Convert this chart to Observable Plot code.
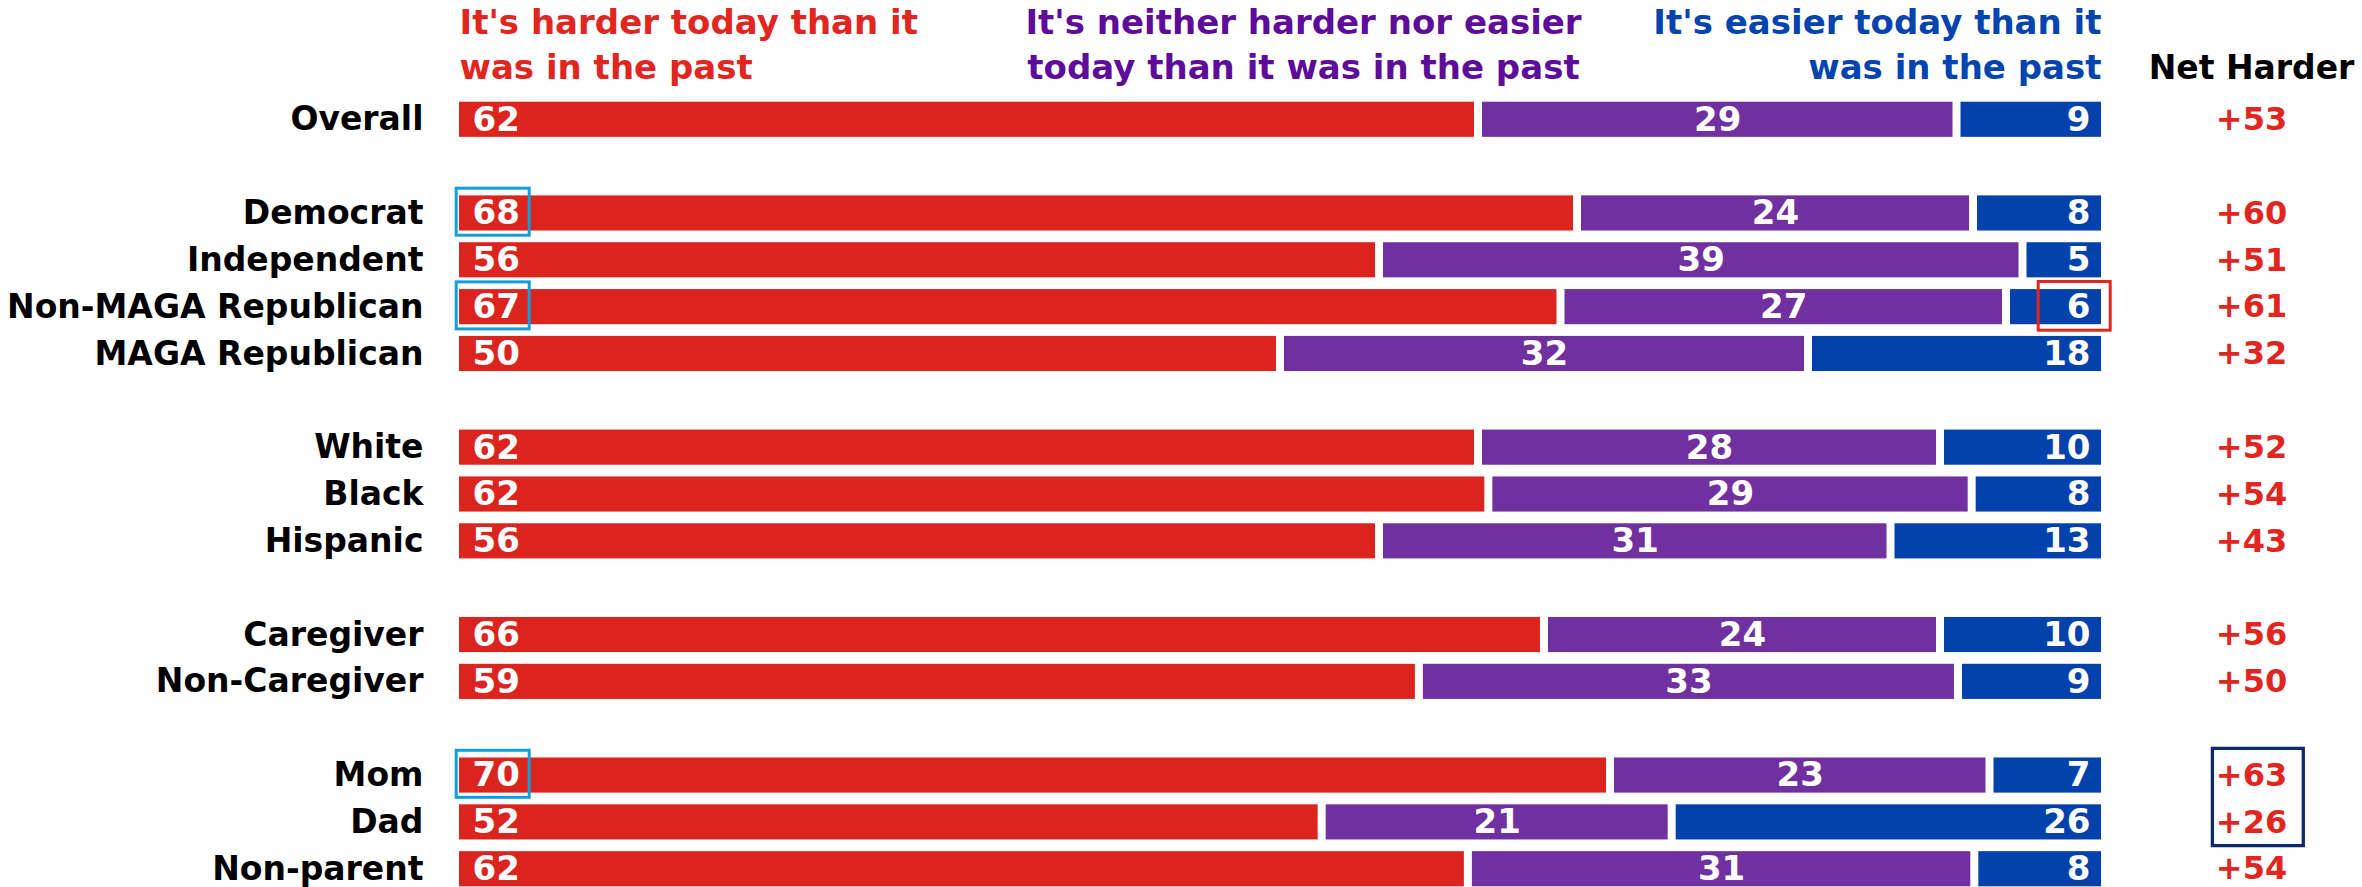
<!DOCTYPE html>
<html><head><meta charset="utf-8">
<script src="https://cdn.jsdelivr.net/npm/d3@7"></script>
<script src="https://cdn.jsdelivr.net/npm/@observablehq/plot@0.6"></script>
<style>
body{margin:0;background:#fff;}
#chart{position:relative;width:2362px;height:887px;overflow:hidden;}
</style>
</head><body><div id="chart"></div>
<script>
// ---- data ----
const rowOrder = ["Overall"," ","Democrat","Independent","Non-MAGA Republican","MAGA Republican","  ","White","Black","Hispanic","   ","Caregiver","Non-Caregiver","    ","Mom","Dad","Non-parent"];
const categories = ["Overall","Democrat","Independent","Non-MAGA Republican","MAGA Republican","White","Black","Hispanic","Caregiver","Non-Caregiver","Mom","Dad","Non-parent"];
const harder  = [62,68,56,67,50,62,62,56,66,59,70,52,62];
const neither = [29,24,39,27,32,28,29,31,24,33,23,21,31];
const easier  = [9,8,5,6,18,10,8,13,10,9,7,26,8];
const netHarder = [53,60,51,61,32,52,54,43,56,50,63,26,54];
const seriesNames = ["It's harder today than it was in the past","It's neither harder nor easier today than it was in the past","It's easier today than it was in the past"];
const headerLines = ["It's harder today than it\nwas in the past","It's neither harder nor easier\ntoday than it was in the past","It's easier today than it\nwas in the past"];
const netTitle = "Net Harder";
const highlightHarder = ["Democrat","Non-MAGA Republican","Mom"];
const highlightEasier = ["Non-MAGA Republican"];
const highlightNet = ["Mom"]; // box covers Mom and Dad

// ---- colours ----
const RED = "#DC241F", PURPLE = "#7030A0", BLUE = "#0341AD";
const HRED = "#E0261F", HPURPLE = "#5E0C9A", HBLUE = "#0344AE";

// ---- build normalized stacked rows ----
const long = [];
categories.forEach((c, i) => {
  const vals = [harder[i], neither[i], easier[i]];
  const total = d3.sum(vals);
  let acc = 0;
  vals.forEach((v, j) => {
    const x1 = acc / total; acc += v; const x2 = acc / total;
    long.push({category: c, series: seriesNames[j], value: v, x1, x2});
  });
});
const netRows = categories.map((c, i) => ({category: c, net: netHarder[i]}));
const bySeries = s => long.filter(d => d.series === seriesNames[s]);

const FONT = "DejaVu Sans";
const chart = Plot.plot({
  width: 2362,
  height: 887,
  marginLeft: 455,
  marginRight: 257,
  marginTop: 90,
  marginBottom: 0,
  style: {fontFamily: FONT, fontWeight: "bold", background: "white"},
  x: {domain: [0, 1], axis: null},
  y: {domain: rowOrder, range: [90, 898], padding: 0.25, round: false, axis: null},
  color: {domain: seriesNames, range: [RED, PURPLE, BLUE]},
  marks: [
    Plot.barX(long, {y: "category", x1: "x1", x2: "x2", fill: "series", insetLeft: 4, insetRight: 4}),
    // values inside bars
    Plot.text(bySeries(0), {y: "category", x: "x1", text: "value", textAnchor: "start", dx: 17, fill: "white", fontSize: 34, fontWeight: "bold"}),
    Plot.text(bySeries(1), {y: "category", x: d => (d.x1 + d.x2) / 2, text: "value", textAnchor: "middle", fill: "white", fontSize: 34, fontWeight: "bold"}),
    Plot.text(bySeries(2), {y: "category", x: "x2", text: "value", textAnchor: "end", dx: -15, fill: "white", fontSize: 34, fontWeight: "bold"}),
    // net harder column
    Plot.text(netRows, {y: "category", x: d => 1, text: d => "+" + d.net, textAnchor: "middle", dx: 146, fill: HRED, fontSize: 32, fontWeight: "bold"}),
    // category labels
    Plot.axisY(categories, {anchor: "left", tickSize: 0, tickPadding: 32, fontSize: 33, fontWeight: "bold", fill: "black", label: null}),
    // headers
    Plot.text([headerLines[0]], {frameAnchor: "top-left", text: d => d, textAnchor: "start", lineAnchor: "bottom", lineHeight: 1.32, dx: 4, dy: -12, fill: HRED, fontSize: 34, fontWeight: "bold"}),
    Plot.text([headerLines[1]], {frameAnchor: "top", text: d => d, textAnchor: "middle", lineAnchor: "bottom", lineHeight: 1.32, dx: 23, dy: -12, fill: HPURPLE, fontSize: 34, fontWeight: "bold"}),
    Plot.text([headerLines[2]], {frameAnchor: "top-right", text: d => d, textAnchor: "end", lineAnchor: "bottom", lineHeight: 1.32, dx: -4, dy: -12, fill: HBLUE, fontSize: 34, fontWeight: "bold"}),
    Plot.text([netTitle], {frameAnchor: "top-right", text: d => d, textAnchor: "middle", lineAnchor: "bottom", dx: 146, dy: -12, fill: "black", fontSize: 33, fontWeight: "bold"}),
    // highlight boxes
    Plot.barX(bySeries(0).filter(d => highlightHarder.includes(d.category)), {y: "category", x1: "x1", x2: "x1", fill: "none", stroke: "#0FA0DC", strokeWidth: 3, insetLeft: 1.2, insetRight: -74.2, insetTop: -7.2, insetBottom: -4.7}),
    Plot.barX(bySeries(2).filter(d => highlightEasier.includes(d.category)), {y: "category", x1: "x2", x2: "x2", fill: "none", stroke: HRED, strokeWidth: 3, insetLeft: -66.8, insetRight: -5.2, insetTop: -7.6, insetBottom: -6}),
    Plot.barX(netRows.filter(d => highlightNet.includes(d.category)), {y: "category", x1: d => 1, x2: d => 1, fill: "none", stroke: "#0E2A6A", strokeWidth: 3.3, insetLeft: 107.4, insetRight: -198.3, insetTop: -9.1, insetBottom: -53})
  ]
});
document.getElementById("chart").appendChild(chart);
</script>
</body></html>
